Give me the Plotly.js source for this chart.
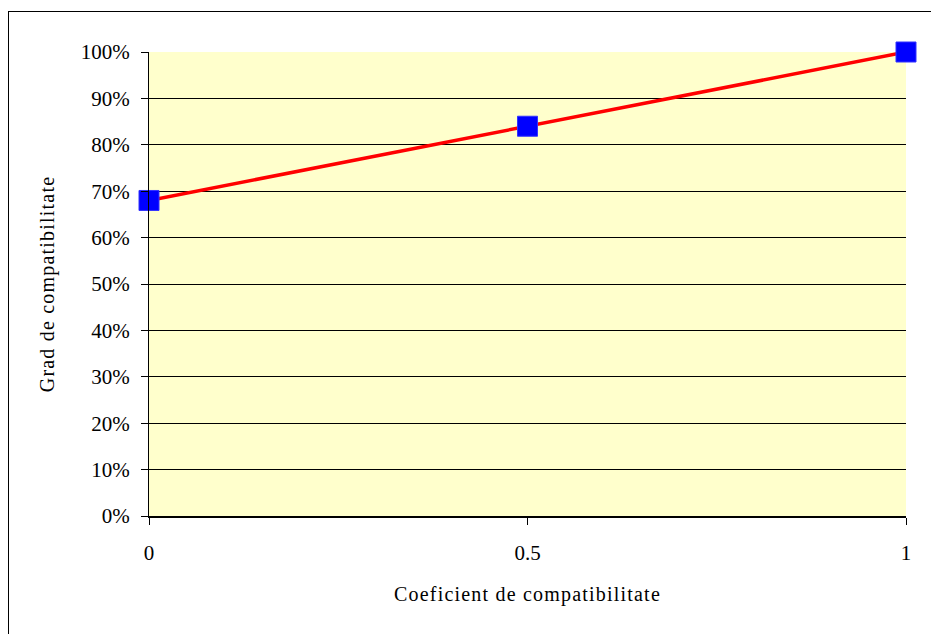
<!DOCTYPE html>
<html><head><meta charset="utf-8">
<script src="https://cdn.plot.ly/plotly-3.0.1.min.js"></script>
<style>
html,body{margin:0;padding:0;background:#fff;}
#frame{position:absolute;left:8px;top:11px;width:930px;height:630px;border:1px solid #000;box-sizing:border-box;}
#chart{position:absolute;left:0;top:0;width:931px;height:634px;}
#chart .xtitle, #chart .ytitle{letter-spacing:1.2px;}
</style></head>
<body>
<div id="frame"></div>
<div id="chart"></div>
<script>
const xValues = [0, 0.5, 1];
const yValues = [0.68, 0.84, 1.00];
const xTicks = [0, 0.5, 1];
const xTickText = ['0', '0.5', '1'];
const yTicks = [0, 0.1, 0.2, 0.3, 0.4, 0.5, 0.6, 0.7, 0.8, 0.9, 1.0];

const font = {family: '"Liberation Serif", "Times New Roman", serif', size: 20, color: '#000'};
const tickFont = {family: '"Liberation Serif", "Times New Roman", serif', size: 21, color: '#000'};

Plotly.newPlot('chart', [{
  x: xValues, y: yValues, type: 'scatter', mode: 'lines+markers',
  line: {color: '#FF0000', width: 3.5},
  marker: {symbol: 'square', size: 20, color: '#0000FF', line: {color: '#3333FF', width: 1}},
  cliponaxis: false, hoverinfo: 'none'
}], {
  width: 931, height: 634,
  margin: {l: 149, r: 25, t: 52, b: 118},
  paper_bgcolor: 'rgba(0,0,0,0)',
  plot_bgcolor: '#FFFFCC',
  showlegend: false,
  font: font,
  xaxis: {
    range: [0, 1], tickvals: xTicks, ticktext: xTickText,
    showgrid: false, zeroline: false,
    showline: true, linecolor: '#000', linewidth: 1.5,
    ticks: 'outside', ticklen: 7, tickcolor: '#000', tickwidth: 1,
    ticklabelstandoff: 10,
    tickfont: tickFont,
    title: {text: 'Coeficient de compatibilitate', font: font, standoff: 23}
  },
  yaxis: {
    range: [0, 1], tickvals: yTicks, tickformat: '.0%',
    showgrid: true, gridcolor: '#000', gridwidth: 1,
    zeroline: false,
    showline: true, linecolor: '#000', linewidth: 1,
    ticks: 'outside', ticklen: 7, tickcolor: '#000', tickwidth: 1,
    ticklabelstandoff: 7,
    tickfont: tickFont,
    title: {text: 'Grad de compatibilitate', font: font, standoff: 20}
  }
}, {staticPlot: true});
</script>
</body></html>
